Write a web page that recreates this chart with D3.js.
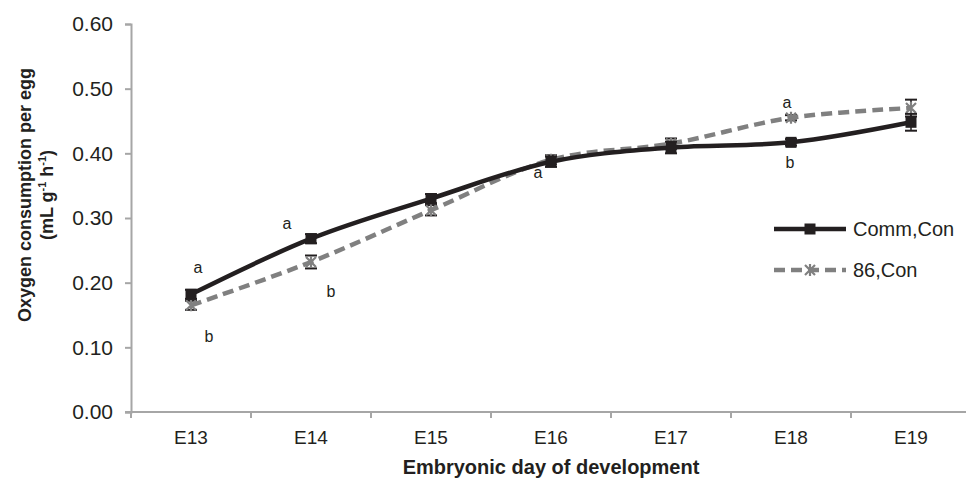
<!DOCTYPE html>
<html>
<head>
<meta charset="utf-8">
<script src="https://cdn.jsdelivr.net/npm/d3@7/dist/d3.min.js"></script>
<style>
  html, body { margin: 0; padding: 0; background: #fff; }
  svg { display: block; font-family: "Liberation Sans", Arial, sans-serif; }
</style>
</head>
<body>
<svg id="chart" width="966" height="479"></svg>
<script>
// Embryonic days
const days = ["E13", "E14", "E15", "E16", "E17", "E18", "E19"];

// Oxygen consumption per egg (mL g-1 h-1), mean and SE
const commCon = [0.182, 0.268, 0.330, 0.387, 0.409, 0.417, 0.448];
const commErr = [0.007, 0.007, 0.007, 0.008, 0.009, 0.005, 0.013];
const line86Con = [0.165, 0.232, 0.312, 0.390, 0.415, 0.455, 0.470];
const line86Err = [0.007, 0.010, 0.008, 0.007, 0.008, 0.004, 0.013];

const seriesNames = ["Comm,Con", "86,Con"];
const yTicks = [0, 0.1, 0.2, 0.3, 0.4, 0.5, 0.6];

// significance letters: day, level on the value axis, letter
const letterDays = ["E13", "E13", "E14", "E14", "E16", "E18", "E18"];
const letterLevels = [0.224, 0.117, 0.292, 0.187, 0.370, 0.479, 0.386];
const letterTexts = ["a", "b", "a", "b", "a", "a", "b"];
const letterShift = [7, 18, -24, 20, -13, -4, -1];

const svg = d3.select("#chart");
const ink = "#231f20";
const axisGray = "#a6a6a6";
const dashGray = "#808080";

const x = d3.scaleBand().domain(days).range([131, 971]).padding(0);
const y = d3.scaleLinear().domain([0, 0.6]).range([412, 24]);
const cx = d => x(d) + x.bandwidth() / 2;

// value axis
const yAxis = svg.append("g").attr("transform", "translate(131,0)")
  .call(d3.axisLeft(y).tickValues(yTicks).tickFormat(d3.format(".2f")).tickSize(6).tickPadding(12));
yAxis.select(".domain").attr("stroke", axisGray).attr("stroke-width", 2);
yAxis.selectAll(".tick line").attr("stroke", axisGray).attr("stroke-width", 2);
yAxis.selectAll(".tick text").attr("font-size", 21).attr("fill", ink)
  .attr("font-family", "Liberation Sans, Arial, sans-serif");

// category axis with ticks on band boundaries
const xg = svg.append("g").attr("transform", "translate(0,412)");
xg.append("line").attr("x1", 125).attr("x2", 971).attr("y1", 0).attr("y2", 0)
  .attr("stroke", axisGray).attr("stroke-width", 2);
xg.selectAll("line.bt").data(days).enter().append("line").attr("class", "bt")
  .attr("x1", d => x(d)).attr("x2", d => x(d)).attr("y1", 0).attr("y2", 6)
  .attr("stroke", axisGray).attr("stroke-width", 2);
xg.selectAll("text").data(days).enter().append("text")
  .attr("x", cx).attr("y", 32).attr("text-anchor", "middle")
  .attr("font-size", 19).attr("fill", ink).text(d => d);

// axis titles
svg.append("text").attr("x", 551).attr("y", 474).attr("text-anchor", "middle")
  .attr("font-size", 20).attr("font-weight", "bold").attr("fill", ink)
  .text("Embryonic day of development");

const yt = svg.append("text").attr("transform", "translate(0,195) rotate(-90)")
  .attr("text-anchor", "middle").attr("font-size", 18).attr("font-weight", "bold").attr("fill", ink);
yt.append("tspan").attr("x", 0).attr("y", 31).text("Oxygen consumption per egg");
const l2 = yt.append("tspan").attr("x", 0).attr("y", 53);
l2.append("tspan").text("(mL g");
l2.append("tspan").attr("font-size", 11).attr("dy", -7).text("-1");
l2.append("tspan").attr("dy", 7).text(" h");
l2.append("tspan").attr("font-size", 11).attr("dy", -7).text("-1");
l2.append("tspan").attr("dy", 7).text(")");

const curve = d3.curveCatmullRom.alpha(0);
const lineGen = d3.line().x((d, i) => cx(days[i])).y(d => y(d)).curve(curve);

function errorBars(vals, errs, color) {
  const g = svg.append("g");
  vals.forEach((v, i) => {
    const px = cx(days[i]);
    const top = y(v + errs[i]), bot = y(v - errs[i]);
    g.append("line").attr("x1", px).attr("x2", px).attr("y1", top).attr("y2", bot)
      .attr("stroke", color).attr("stroke-width", 1.5);
    [top, bot].forEach(yy => g.append("line").attr("x1", px - 6).attr("x2", px + 6)
      .attr("y1", yy).attr("y2", yy).attr("stroke", color).attr("stroke-width", 2));
  });
}

function starMarker(g, px, py, color) {
  const s = 5;
  g.append("path")
    .attr("d", `M${px - s},${py - s}L${px + s},${py + s}M${px - s},${py + s}L${px + s},${py - s}M${px},${py - s - 1}L${px},${py + s + 1}`)
    .attr("stroke", color).attr("stroke-width", 2.2).attr("fill", "none");
}

// 86,Con series (dashed gray)
errorBars(line86Con, line86Err, ink);
svg.append("path").datum(line86Con).attr("d", lineGen)
  .attr("fill", "none").attr("stroke", dashGray).attr("stroke-width", 4.5)
  .attr("stroke-dasharray", "11,6");
const m86 = svg.append("g");
line86Con.forEach((v, i) => starMarker(m86, cx(days[i]), y(v), dashGray));

// Comm,Con series (solid black)
errorBars(commCon, commErr, ink);
svg.append("path").datum(commCon).attr("d", lineGen)
  .attr("fill", "none").attr("stroke", ink).attr("stroke-width", 4.5);
svg.append("g").selectAll("rect").data(commCon).enter().append("rect")
  .attr("x", (d, i) => cx(days[i]) - 5.5).attr("y", d => y(d) - 5.5)
  .attr("width", 11).attr("height", 11).attr("fill", ink);

// significance letters
svg.append("g").selectAll("text").data(letterTexts).enter().append("text")
  .attr("x", (d, i) => cx(letterDays[i]) + letterShift[i])
  .attr("y", (d, i) => y(letterLevels[i]))
  .attr("dy", "0.35em").attr("text-anchor", "middle")
  .attr("font-size", 16).attr("fill", ink).text(d => d);

// legend
const leg = svg.append("g");
[0, 1].forEach(k => {
  const ly = 229 + k * 41;
  const ln = leg.append("line").attr("x1", 774).attr("x2", 846).attr("y1", ly).attr("y2", ly)
    .attr("stroke", k === 0 ? ink : dashGray).attr("stroke-width", 4.5);
  if (k === 1) {
    ln.attr("stroke-dasharray", "11,6");
    starMarker(leg, 810, ly, dashGray);
  } else {
    leg.append("rect").attr("x", 804.5).attr("y", ly - 5.5).attr("width", 11).attr("height", 11).attr("fill", ink);
  }
  leg.append("text").attr("x", 853).attr("y", ly).attr("dy", "0.35em")
    .attr("font-size", 20).attr("fill", ink).text(seriesNames[k]);
});
</script>
</body>
</html>
